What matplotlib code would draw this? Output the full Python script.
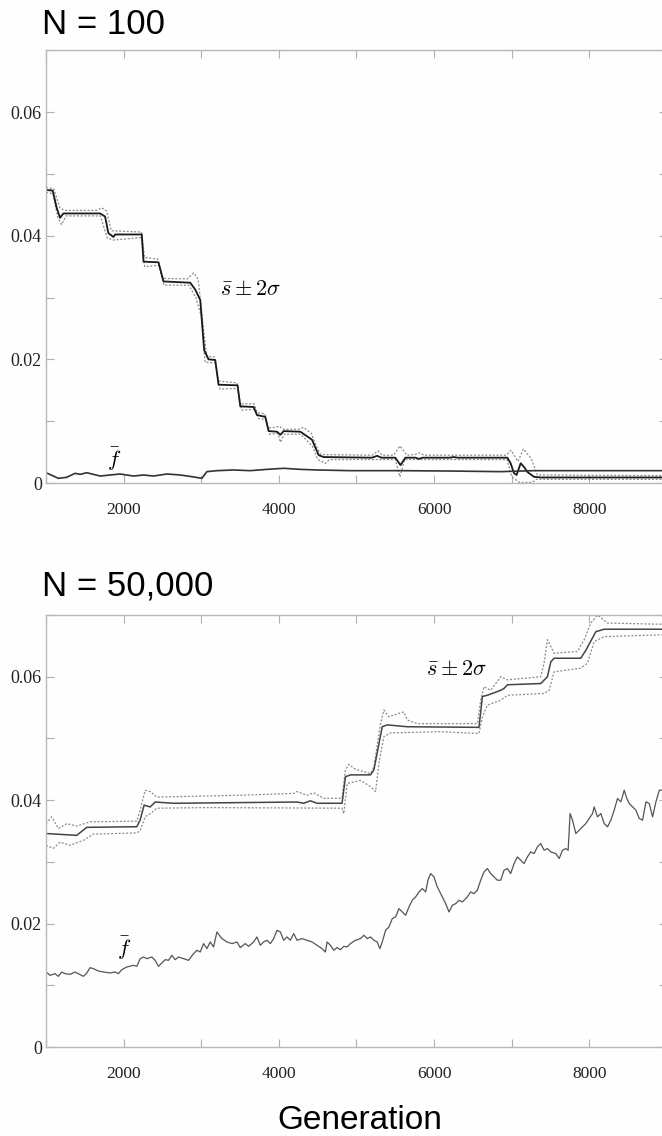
import matplotlib
matplotlib.use("Agg")
import matplotlib.pyplot as plt
from matplotlib.ticker import MultipleLocator

plt.rcParams['mathtext.fontset'] = 'cm'

# ---------------- N = 100 ----------------
s100_x = [1000, 1086, 1138, 1181, 1224, 1697, 1761, 1804, 1869, 1890, 2234, 2256, 2449, 2514,
          2858, 2922, 2987, 3038, 3094, 3180, 3223, 3468, 3503, 3675, 3718, 3825, 3868, 3976,
          4019, 4062, 4277, 4427, 4513, 4577, 5200, 5266, 5320, 5500, 5567, 5630, 5760, 5804,
          5850, 6200, 6255, 6300, 6943, 6986, 7029, 7063, 7115, 7158, 7201, 7287, 7373, 8950]
s100_y = [0.0474, 0.0473, 0.0445, 0.0429, 0.0436, 0.0436, 0.0431, 0.0404, 0.0398, 0.0402,
          0.0402, 0.0358, 0.0357, 0.0326, 0.0324, 0.0313, 0.0296, 0.0215, 0.0200, 0.0199,
          0.0159, 0.0158, 0.0124, 0.0123, 0.0110, 0.0107, 0.0084, 0.0083, 0.0078, 0.0084,
          0.0083, 0.0070, 0.0045, 0.0042, 0.0041, 0.0044, 0.0041, 0.0041, 0.0029, 0.0041,
          0.0041, 0.0039, 0.0041, 0.0041, 0.0042, 0.0041, 0.0041, 0.0032, 0.0016, 0.0013,
          0.0032, 0.0026, 0.0018, 0.0010, 0.0009, 0.0009]

up100_x = [1000, 1100, 1180, 1240, 1650, 1720, 1780, 1840, 2230, 2270, 2440, 2500, 2820, 2900,
           2960, 3020, 3070, 3170, 3220, 3460, 3500, 3680, 3720, 3820, 3860, 3960, 4000, 4060,
           4250, 4320, 4420, 4480, 4540, 5200, 5280, 5330, 5480, 5560, 5650, 5750, 5810, 5870,
           6930, 6990, 7080, 7150, 7250, 7330, 8950]
up100_y = [0.0478, 0.0476, 0.0445, 0.0441, 0.0441, 0.0445, 0.0440, 0.0408, 0.0406, 0.0365,
           0.0362, 0.0331, 0.0330, 0.0340, 0.0330, 0.0260, 0.0205, 0.0204, 0.0165, 0.0162,
           0.0128, 0.0128, 0.0114, 0.0112, 0.0089, 0.0090, 0.0092, 0.0087, 0.0087, 0.0090,
           0.0080, 0.0060, 0.0046, 0.0045, 0.0052, 0.0045, 0.0045, 0.0060, 0.0045, 0.0046,
           0.0049, 0.0045, 0.0045, 0.0053, 0.0035, 0.0055, 0.0040, 0.0013, 0.0012]

lo100_x = [1000, 1090, 1150, 1200, 1260, 1700, 1790, 1870, 2230, 2270, 2450, 2520, 2840, 2930,
           3000, 3050, 3100, 3180, 3240, 3470, 3520, 3690, 3740, 3830, 3880, 3990, 4020, 4070,
           4280, 4430, 4500, 4600, 4650, 5500, 5560, 5620, 6940, 7000, 7100, 7260, 7320, 8950]
lo100_y = [0.0470, 0.0468, 0.0430, 0.0418, 0.0432, 0.0432, 0.0396, 0.0393, 0.0397, 0.0350,
           0.0352, 0.0320, 0.0320, 0.0300, 0.0270, 0.0195, 0.0195, 0.0194, 0.0152, 0.0153,
           0.0118, 0.0119, 0.0104, 0.0103, 0.0079, 0.0080, 0.0066, 0.0079, 0.0079, 0.0060,
           0.0038, 0.0032, 0.0038, 0.0038, 0.0010, 0.0038, 0.0038, 0.0010, 0.0001, 0.0001,
           0.0006, 0.0006]

f100_x = [1000, 1095, 1159, 1267, 1374, 1439, 1525, 1697, 1826, 1955, 2127, 2256, 2385, 2557,
          2729, 2879, 3008, 3073, 3202, 3417, 3632, 3847, 4062, 4277, 4492, 4922, 5567, 6212,
          6857, 7287, 8147, 8950]
f100_y = [0.00167, 0.00113, 0.00076, 0.00092, 0.00157, 0.00140, 0.00167, 0.00113, 0.00130,
          0.00146, 0.00113, 0.00130, 0.00113, 0.00146, 0.00130, 0.00103, 0.00076, 0.00184,
          0.00200, 0.00211, 0.00200, 0.00221, 0.00238, 0.00221, 0.00211, 0.00200, 0.00200,
          0.00194, 0.00184, 0.00200, 0.00200, 0.00200]

# ---------------- N = 50,000 ----------------
s5k_x = [1000, 1396, 1525, 2170, 2213, 2264, 2342, 2406, 2643, 4234, 4320, 4406, 4492, 4814,
         4858, 4923, 5181, 5224, 5332, 5396, 5654, 6578, 6622, 6686, 6858, 6901, 6944, 7374,
         7460, 7503, 7546, 7890, 7955, 8084, 8191, 8950]
s5k_y = [0.0346, 0.0343, 0.0356, 0.0357, 0.0368, 0.0392, 0.0389, 0.0397, 0.0395, 0.0397,
         0.0395, 0.0399, 0.0395, 0.0395, 0.0438, 0.0441, 0.0441, 0.0449, 0.0519, 0.0522,
         0.0519, 0.0518, 0.0568, 0.0570, 0.0578, 0.0581, 0.0587, 0.0589, 0.0600, 0.0624,
         0.0630, 0.0630, 0.0643, 0.0673, 0.0677, 0.0677]

up5k_x = [1000, 1073, 1159, 1267, 1396, 1568, 2170, 2213, 2277, 2342, 2428, 3503, 4191, 4234,
          4363, 4449, 4578, 4814, 4857, 4900, 4986, 5181, 5224, 5310, 5353, 5418, 5482, 5611,
          5654, 5783, 6557, 6600, 6643, 6729, 6858, 6944, 7374, 7417, 7460, 7546, 7847, 7933,
          8019, 8105, 8234, 8950]
up5k_y = [0.0362, 0.0373, 0.0354, 0.0362, 0.0358, 0.0365, 0.0366, 0.0384, 0.0416, 0.0414,
          0.0405, 0.0408, 0.0411, 0.0414, 0.0408, 0.0412, 0.0403, 0.0403, 0.0449, 0.0458,
          0.0450, 0.0443, 0.0454, 0.0524, 0.0546, 0.0535, 0.0538, 0.0543, 0.0530, 0.0524,
          0.0524, 0.0562, 0.0584, 0.0578, 0.0600, 0.0595, 0.0600, 0.0622, 0.0660, 0.0638,
          0.0641, 0.0660, 0.0687, 0.0700, 0.0687, 0.0685]

lo5k_x = [1000, 1095, 1181, 1310, 1482, 1611, 2170, 2213, 2277, 2342, 2428, 3073, 4814, 4836,
          4880, 5052, 5181, 5246, 5289, 5353, 5439, 6084, 6578, 6622, 6686, 6858, 6944, 7417,
          7482, 7546, 7890, 7976, 8062, 8191, 8950]
lo5k_y = [0.0327, 0.0322, 0.0332, 0.0327, 0.0335, 0.0345, 0.0347, 0.0351, 0.0373, 0.0378,
          0.0387, 0.0388, 0.0387, 0.0378, 0.0427, 0.0432, 0.0422, 0.0414, 0.0460, 0.0503,
          0.0509, 0.0511, 0.0508, 0.0535, 0.0554, 0.0562, 0.0570, 0.0573, 0.0578, 0.0608,
          0.0614, 0.0622, 0.0657, 0.0665, 0.0668]

f5k_x = [1000, 1052, 1116, 1159, 1202, 1245, 1310, 1374, 1417, 1482, 1525, 1568, 1611, 1675,
         1740, 1826, 1890, 1933, 1976, 2041, 2127, 2170, 2213, 2256, 2299, 2363, 2406, 2449,
         2492, 2535, 2578, 2621, 2664, 2707, 2772, 2836, 2901, 2944, 2987, 3030, 3073, 3116,
         3159, 3202, 3266, 3331, 3395, 3460, 3503, 3567, 3610, 3675, 3718, 3761, 3804, 3847,
         3890, 3933, 3976, 4019, 4062, 4105, 4148, 4191, 4234, 4298, 4363, 4427, 4492, 4556,
         4599, 4621, 4664, 4707, 4750, 4793, 4836, 4879, 4922, 4986, 5051, 5095, 5138, 5181,
         5224, 5267, 5301, 5332, 5375, 5418, 5461, 5504, 5547, 5590, 5633, 5676, 5719, 5762,
         5805, 5848, 5891, 5921, 5955, 5998, 6041, 6084, 6149, 6192, 6235, 6278, 6321, 6364,
         6428, 6471, 6514, 6557, 6600, 6643, 6686, 6729, 6772, 6815, 6858, 6901, 6944, 6987,
         7030, 7073, 7116, 7159, 7202, 7245, 7288, 7331, 7374, 7417, 7460, 7503, 7568, 7611,
         7654, 7697, 7727, 7752, 7783, 7826, 7869, 7912, 7955, 7998, 8041, 8062, 8105, 8148,
         8191, 8234, 8277, 8320, 8363, 8406, 8449, 8483, 8514, 8557, 8600, 8643, 8686, 8729,
         8772, 8815, 8858, 8901, 8950]
f5k_y = [0.01216, 0.01162, 0.01189, 0.01146, 0.01216, 0.01189, 0.01178, 0.01216, 0.01189,
         0.01146, 0.01200, 0.01286, 0.01270, 0.01232, 0.01216, 0.01200, 0.01216, 0.01189,
         0.01254, 0.01297, 0.01324, 0.01308, 0.01432, 0.01459, 0.01432, 0.01459, 0.01405,
         0.01308, 0.01362, 0.01416, 0.01405, 0.01486, 0.01416, 0.01459, 0.01432, 0.01405,
         0.01514, 0.01568, 0.01540, 0.01676, 0.01595, 0.01703, 0.01622, 0.01865, 0.01757,
         0.01703, 0.01676, 0.01703, 0.01611, 0.01676, 0.01632, 0.01703, 0.01784, 0.01649,
         0.01703, 0.01730, 0.01676, 0.01757, 0.01892, 0.01865, 0.01730, 0.01784, 0.01730,
         0.01838, 0.01730, 0.01757, 0.01730, 0.01703, 0.01649, 0.01595, 0.01540, 0.01703,
         0.01649, 0.01568, 0.01611, 0.01578, 0.01632, 0.01622, 0.01676, 0.01730, 0.01757,
         0.01811, 0.01757, 0.01784, 0.01730, 0.01703, 0.01595, 0.01703, 0.01892, 0.01946,
         0.02081, 0.02108, 0.02243, 0.02189, 0.02135, 0.02270, 0.02378, 0.02432, 0.02514,
         0.02568, 0.02514, 0.02703, 0.02811, 0.02757, 0.02595, 0.02486, 0.02324, 0.02189,
         0.02297, 0.02324, 0.02378, 0.02351, 0.02432, 0.02514, 0.02486, 0.02541, 0.02703,
         0.02838, 0.02892, 0.02811, 0.02757, 0.02703, 0.02703, 0.02865, 0.02892, 0.02811,
         0.02973, 0.03081, 0.03027, 0.02973, 0.03081, 0.03162, 0.03135, 0.03243, 0.03297,
         0.03189, 0.03216, 0.03162, 0.03135, 0.03054, 0.03189, 0.03216, 0.03189, 0.03784,
         0.03676, 0.03459, 0.03514, 0.03568, 0.03622, 0.03703, 0.03784, 0.03892, 0.03730,
         0.03784, 0.03622, 0.03568, 0.03676, 0.03838, 0.04027, 0.03973, 0.04162, 0.04027,
         0.03946, 0.03892, 0.03838, 0.03703, 0.03676, 0.03973, 0.03946, 0.03730, 0.03973,
         0.04162, 0.04162]

xticks = [2000, 4000, 6000, 8000]
yticks = [0, 0.02, 0.04, 0.06]
ytick_labels = ["0", "0.02", "0.04", "0.06"]

dots = dict(color="#8a8a8a", lw=0.9, ls=(0, (1.6, 1.4)))

fig = plt.figure(figsize=(6.62, 11.36), dpi=100)
ax1 = fig.add_axes([0.0695, 0.5748, 0.938, 0.381])
ax2 = fig.add_axes([0.0695, 0.0783, 0.938, 0.3803])


def style(ax):
    ax.set_xlim(1000, 9000)
    ax.set_ylim(0, 0.07)
    ax.set_xticks(xticks)
    ax.set_yticks(yticks)
    ax.set_yticklabels(ytick_labels)
    ax.xaxis.set_minor_locator(MultipleLocator(1000))
    ax.yaxis.set_minor_locator(MultipleLocator(0.01))
    ax.tick_params(which="both", direction="in", top=True, right=True,
                   length=6, width=0.8, color="#b0b0b0")
    ax.tick_params(axis="x", pad=14, labelsize=12.5)
    ax.tick_params(axis="y", pad=3, labelsize=13)
    for lab in ax.get_xticklabels() + ax.get_yticklabels():
        lab.set_family("Liberation Serif")
        lab.set_color("#222222")
    for sp in ax.spines.values():
        sp.set_color("#b8b8b8")
        sp.set_linewidth(1.0)
    ax.set_facecolor("#fefefe")


# top panel
ax1.plot(up100_x, up100_y, **dots)
ax1.plot(lo100_x, lo100_y, **dots)
ax1.plot(s100_x, s100_y, color="#1a1a1a", lw=1.3)
ax1.plot(f100_x, f100_y, color="#333333", lw=1.2)
ax1.text(3632, 0.0313, r"$\bar{s} \pm 2\sigma$", fontsize=16, ha="center", va="center")
ax1.text(1877, 0.0038, r"$\bar{f}$", fontsize=16, ha="center", va="center")
style(ax1)

# bottom panel
ax2.plot(up5k_x, up5k_y, **dots)
ax2.plot(lo5k_x, lo5k_y, **dots)
ax2.plot(s5k_x, s5k_y, color="#444444", lw=1.1)
ax2.plot(f5k_x, f5k_y, color="#555555", lw=0.9)
ax2.text(6290, 0.0612, r"$\bar{s} \pm 2\sigma$", fontsize=16, ha="center", va="center")
ax2.text(2006, 0.0160, r"$\bar{f}$", fontsize=16, ha="center", va="center")
style(ax2)

fig.text(0.064, 0.978, "N = 100", fontsize=25, family="Liberation Sans", va="center")
fig.text(0.064, 0.484, "N = 50,000", fontsize=25, family="Liberation Sans", va="center")
fig.text(0.543, 0.014, "Generation", fontsize=24, family="Liberation Sans",
         ha="center", va="center")

fig.savefig("out.png", dpi=100, facecolor="#fefefe")
